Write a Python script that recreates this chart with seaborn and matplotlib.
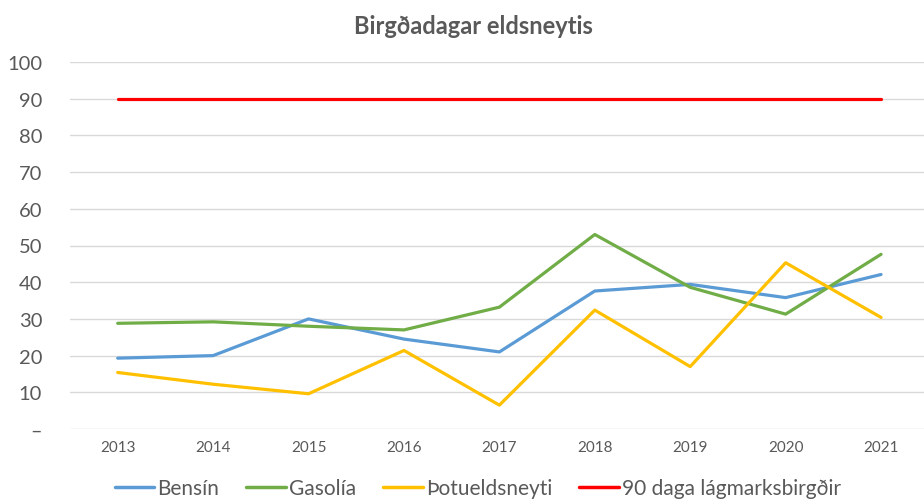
import seaborn as sns
import matplotlib.pyplot as plt
import pandas as pd

# data
years = [2013, 2014, 2015, 2016, 2017, 2018, 2019, 2020, 2021]
bensin = [19.3, 20.0, 30.0, 24.5, 21.0, 37.6, 39.4, 35.8, 42.1]
gasolia = [28.8, 29.2, 28.0, 27.0, 33.2, 53.0, 38.6, 31.3, 47.6]
thotu = [15.4, 12.2, 9.6, 21.4, 6.5, 32.4, 17.0, 45.3, 30.4]
lagmark = [90, 90, 90, 90, 90, 90, 90, 90, 90]

series_names = ["Bensín", "Gasolía", "Þotueldsneyti", "90 daga lágmarksbirgðir"]
colors = ["#5B9BD5", "#70AD47", "#FFC000", "#FF0000"]
y_ticks = [0, 10, 20, 30, 40, 50, 60, 70, 80, 90, 100]

df = pd.DataFrame({
    "year": years * 4,
    "value": bensin + gasolia + thotu + lagmark,
    "series": [n for n in series_names for _ in years],
})

sns.set_style("white")
plt.rcParams["font.family"] = ["Lato", "DejaVu Sans"]

fig = plt.figure(figsize=(9.24, 5.02), dpi=100)
ax = fig.add_axes([70 / 924, 72 / 502, 854 / 924, 367 / 502])

sns.lineplot(data=df, x="year", y="value", hue="series", hue_order=series_names,
             palette=colors, linewidth=2.3, sort=False, ax=ax, legend=False)

ax.set_xlim(2012.5, 2021.45)
ax.set_ylim(0, 100)
ax.set_yticks(y_ticks)
ax.set_yticklabels(["–" if v == 0 else str(v) for v in y_ticks])
ax.set_xticks(years)
ax.set_xticklabels([str(y) for y in years])
ax.tick_params(axis="y", labelsize=14.5, colors="#595959", length=0, pad=20)
ax.tick_params(axis="x", labelsize=11, colors="#595959", length=0, pad=8)
ax.yaxis.grid(True, color="#d9d9d9", linewidth=1)
ax.xaxis.grid(False)
for s in ax.spines.values():
    s.set_visible(False)
ax.set_xlabel("")
ax.set_ylabel("")

fig.text(0.512, 0.947, "Birgðadagar eldsneytis", ha="center", va="center",
         fontsize=17, fontweight="bold", color="#595959")

handles = [plt.Line2D([], [], color=c, linewidth=2.5) for c in colors]
fig.legend(handles, series_names, loc="center", bbox_to_anchor=(0.517, 0.025),
           ncol=4, frameon=False, fontsize=15, handlelength=1.9, handletextpad=0.15,
           columnspacing=1.3, labelcolor="#595959")

fig.savefig("out.png", dpi=100)
